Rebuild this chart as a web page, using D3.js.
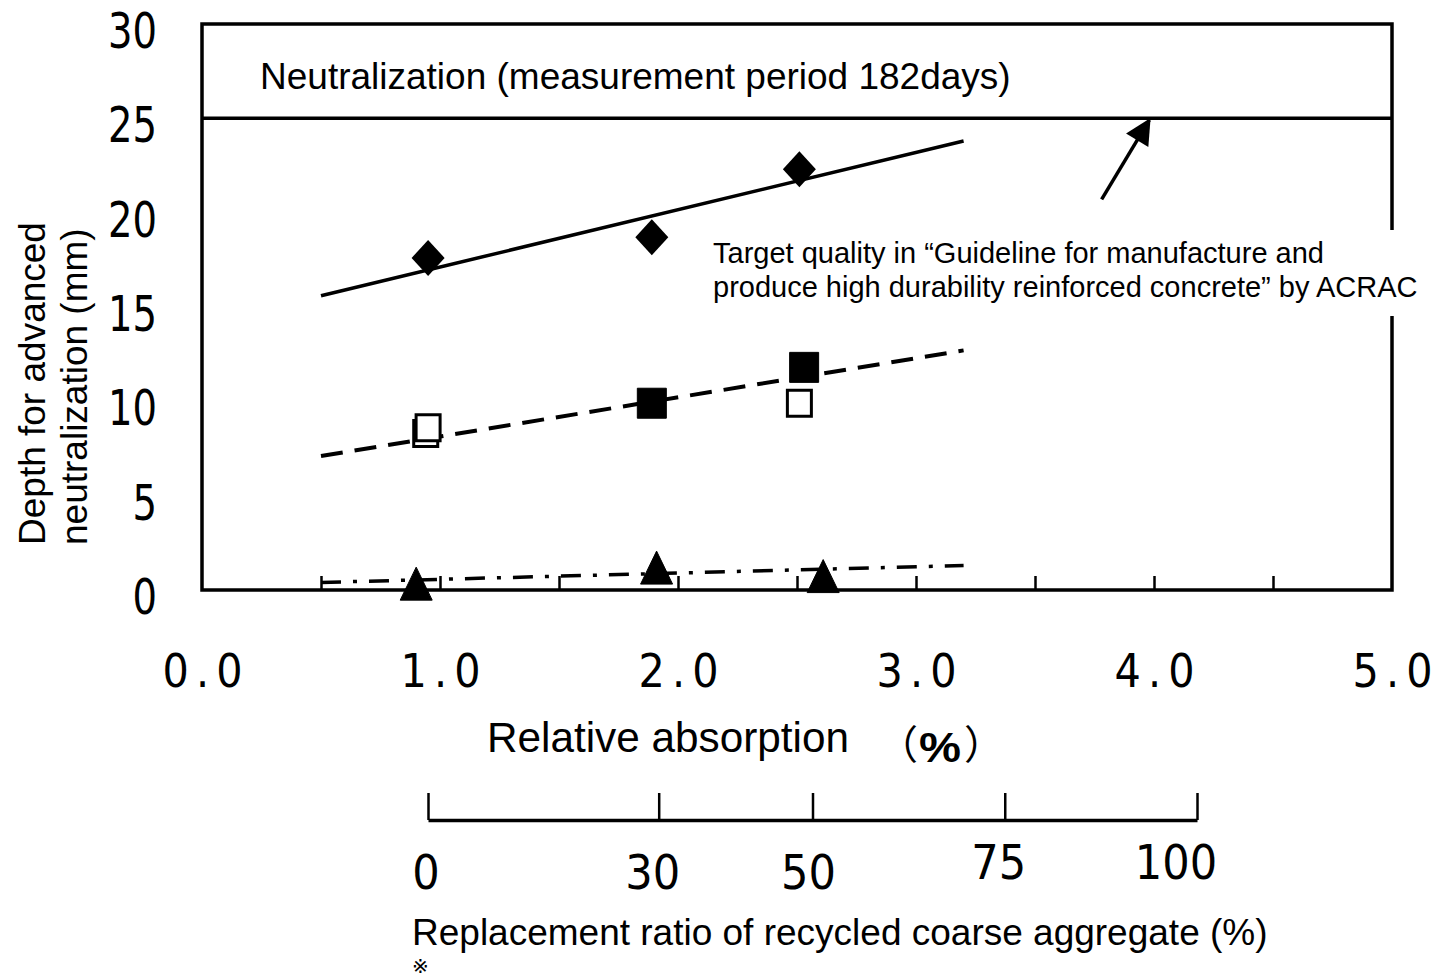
<!DOCTYPE html>
<html>
<head>
<meta charset="utf-8">
<script src="https://cdn.jsdelivr.net/npm/d3@7/dist/d3.min.js"></script>
<style>
  body { margin: 0; background: #fff; }
  svg { display: block; }
  text { font-family: "Liberation Sans", Arial, sans-serif; fill: #000; }
  .num { font-family: "Liberation Sans Narrow", "DejaVu Sans Condensed", "Liberation Sans", sans-serif; }
  .cjk { font-family: "Noto Sans CJK JP", sans-serif; }
  .mark { font-family: "DejaVu Sans", "Noto Sans CJK JP", sans-serif; }
</style>
</head>
<body>
<script>
// axis values
const absorptionTicks = [0, 1, 2, 3, 4, 5];
const absorptionLabels = ["0.0", "1.0", "2.0", "3.0", "4.0", "5.0"];
const absorptionMinor = [0.5, 1, 1.5, 2, 2.5, 3, 3.5, 4, 4.5];
const depthTicks = [0, 5, 10, 15, 20, 25, 30];
const replacementTicks = [0, 30, 50, 75, 100];

// measured points (relative absorption %, depth mm)
const diamondPoints = [[0.95, 17.6], [1.89, 18.7], [2.51, 22.3]];
const filledSquarePoints = [[1.89, 9.9], [2.53, 11.8]];
const openSquarePoints = [[0.94, 8.3], [0.95, 8.6], [2.51, 9.9]];
const trianglePoints = [[0.9, 0.25], [1.91, 1.1], [2.61, 0.65]];

// trend lines
const solidTrend = [[0.5, 15.6], [3.2, 23.8]];
const dashedTrend = [[0.5, 7.1], [3.2, 12.7]];
const dashDotTrend = [[0.5, 0.4], [3.2, 1.3]];

const targetDepth = 25;
const arrowPoints = [[3.78, 20.7], [3.98, 24.9]];

const width = 1442, height = 979;
const plot = { left: 202, right: 1392, top: 24, bottom: 590 };

const svg = d3.select("body").append("svg")
    .attr("width", width)
    .attr("height", height);

const x = d3.scaleLinear().domain([0, 5]).range([plot.left, plot.right]);
const y = d3.scaleLinear().domain([0, 30]).range([plot.bottom, plot.top]);
const r = d3.scaleLinear().domain([0, 100]).range([428, 1197]);

svg.append("defs").append("marker")
    .attr("id", "arrowHead")
    .attr("viewBox", "0 0 10 10")
    .attr("refX", 9).attr("refY", 5)
    .attr("markerUnits", "userSpaceOnUse")
    .attr("orient", "auto")
    .attr("markerWidth", 28).attr("markerHeight", 26)
    .append("path")
    .attr("d", "M0,0 L10,5 L0,10 Z")
    .attr("fill", "#000");

// frame
svg.append("rect")
    .attr("x", plot.left).attr("y", plot.top)
    .attr("width", plot.right - plot.left)
    .attr("height", plot.bottom - plot.top)
    .attr("fill", "none")
    .attr("stroke", "#000")
    .attr("stroke-width", 3.5);

// target line at 25mm
svg.append("line")
    .attr("x1", plot.left).attr("x2", plot.right)
    .attr("y1", y(targetDepth)).attr("y2", y(targetDepth))
    .attr("stroke", "#000").attr("stroke-width", 3.5);

// inner ticks along the bottom
svg.append("g")
    .attr("transform", `translate(0,${plot.bottom})`)
    .call(d3.axisBottom(x).tickValues(absorptionMinor).tickSize(-14).tickFormat(""))
    .call(g => g.select(".domain").remove())
    .selectAll(".tick line")
    .attr("stroke", "#000").attr("stroke-width", 2.5);

// x labels
svg.append("g")
    .attr("transform", `translate(0,${plot.bottom})`)
    .call(d3.axisBottom(x).tickValues(absorptionTicks).tickSize(0).tickPadding(64)
        .tickFormat((d, i) => absorptionLabels[i]))
    .call(g => g.select(".domain").remove())
    .selectAll("text")
    .attr("class", "num")
    .attr("font-size", 46)
    .attr("textLength", 80)
    .attr("lengthAdjust", "spacing")
    .attr("dy", "0.72em");

// y labels
svg.append("g")
    .attr("transform", `translate(${plot.left},0)`)
    .call(d3.axisLeft(y).tickValues(depthTicks).tickSize(0).tickPadding(45))
    .call(g => g.select(".domain").remove())
    .selectAll("text")
    .attr("class", "num")
    .attr("font-size", 49)
    .attr("dy", "0.48em")
    .attr("textLength", d => String(d).length * 24.5)
    .attr("lengthAdjust", "spacingAndGlyphs");

// trend lines
const line = d3.line().x(d => x(d[0])).y(d => y(d[1]));
svg.append("path").datum(solidTrend)
    .attr("d", line).attr("fill", "none")
    .attr("stroke", "#000").attr("stroke-width", 3.5);
svg.append("path").datum(dashedTrend)
    .attr("d", line).attr("fill", "none")
    .attr("stroke", "#000").attr("stroke-width", 4)
    .attr("stroke-dasharray", "22,12");
svg.append("path").datum(dashDotTrend)
    .attr("d", line).attr("fill", "none")
    .attr("stroke", "#000").attr("stroke-width", 3.5)
    .attr("stroke-dasharray", "20,12,4,12");

// marker shapes
function diamond(w, h) {
    return `M0,${-h / 2} L${w / 2},0 L0,${h / 2} L${-w / 2},0 Z`;
}
function square(w, h) {
    return `M${-w / 2},${-h / 2} h${w} v${h} h${-w} Z`;
}
function triangle(w, h) {
    return `M0,${-h * 0.55} L${w / 2},${h * 0.45} L${-w / 2},${h * 0.45} Z`;
}

svg.append("g").selectAll("path")
    .data(diamondPoints).join("path")
    .attr("transform", d => `translate(${x(d[0])},${y(d[1])})`)
    .attr("d", diamond(33, 36))
    .attr("fill", "#000");

svg.append("g").selectAll("path")
    .data(openSquarePoints).join("path")
    .attr("transform", d => `translate(${x(d[0])},${y(d[1])})`)
    .attr("d", square(24, 26))
    .attr("fill", "#fff")
    .attr("stroke", "#000").attr("stroke-width", 3);

svg.append("g").selectAll("path")
    .data(filledSquarePoints).join("path")
    .attr("transform", d => `translate(${x(d[0])},${y(d[1])})`)
    .attr("d", square(29, 30))
    .attr("fill", "#000")
    .attr("stroke", "#000").attr("stroke-width", 1)
    .attr("stroke-linejoin", "round");

svg.append("g").selectAll("path")
    .data(trianglePoints).join("path")
    .attr("transform", d => `translate(${x(d[0])},${y(d[1])})`)
    .attr("d", triangle(32, 33))
    .attr("fill", "#000")
    .attr("stroke", "#000").attr("stroke-width", 1)
    .attr("stroke-linejoin", "round");

// header text inside the box
svg.append("text")
    .attr("x", 260).attr("y", 89)
    .attr("font-size", 37)
    .text("Neutralization (measurement period 182days)");

// annotation
const note = svg.append("g");
note.append("rect")
    .attr("x", 706).attr("y", 230)
    .attr("width", 728).attr("height", 86)
    .attr("fill", "#fff");
note.append("text")
    .attr("x", 713).attr("y", 263)
    .attr("font-size", 29)
    .text("Target quality in \u201cGuideline for manufacture and");
note.append("text")
    .attr("x", 713).attr("y", 297)
    .attr("font-size", 29)
    .text("produce high durability reinforced concrete\u201d by ACRAC");

svg.append("path").datum(arrowPoints)
    .attr("d", line)
    .attr("stroke", "#000").attr("stroke-width", 3.5)
    .attr("marker-end", "url(#arrowHead)");

// y title
const yTitle = [["Depth for advanced", 45], ["neutralization (mm)", 87]];
yTitle.forEach(([t, bx]) => {
    svg.append("text")
        .attr("transform", `translate(${bx},545) rotate(-90)`)
        .attr("font-size", 37)
        .text(t);
});

// x title
svg.append("text")
    .attr("x", 487).attr("y", 752)
    .attr("font-size", 42)
    .attr("textLength", 362)
    .attr("lengthAdjust", "spacingAndGlyphs")
    .text("Relative absorption");

svg.append("text").attr("class", "cjk")
    .attr("x", 878).attr("y", 759)
    .attr("font-size", 40)
    .text("\uff08");
svg.append("text")
    .attr("x", 919).attr("y", 762)
    .attr("font-size", 42)
    .attr("font-weight", "bold")
    .attr("textLength", 42)
    .attr("lengthAdjust", "spacingAndGlyphs")
    .text("%");
svg.append("text").attr("class", "cjk")
    .attr("x", 964).attr("y", 759)
    .attr("font-size", 40)
    .text("\uff09");

// secondary axis: replacement ratio
svg.append("g")
    .attr("transform", "translate(0,820)")
    .call(d3.axisTop(r).tickValues(replacementTicks).tickSize(27).tickSizeOuter(0).tickFormat(""))
    .call(g => g.select(".domain").attr("stroke-width", 3.5))
    .selectAll(".tick line")
    .attr("stroke", "#000").attr("stroke-width", 2.5);

const rLabelShift = { 0: [-2, 0], 30: [-6, 0], 50: [-4, 0], 75: [-6, -10], 100: [-21, -10] };
svg.append("g").selectAll("text")
    .data(replacementTicks).join("text")
    .attr("class", "num")
    .attr("x", d => r(d) + rLabelShift[d][0])
    .attr("y", d => 889 + rLabelShift[d][1])
    .attr("text-anchor", "middle")
    .attr("font-size", 48)
    .text(d => d);

svg.append("text")
    .attr("x", 412).attr("y", 945)
    .attr("font-size", 37)
    .text("Replacement ratio of recycled coarse aggregate (%)");

svg.append("text").attr("class", "mark")
    .attr("x", 412).attr("y", 973)
    .attr("font-size", 20)
    .text("\u203b");
</script>
</body>
</html>
